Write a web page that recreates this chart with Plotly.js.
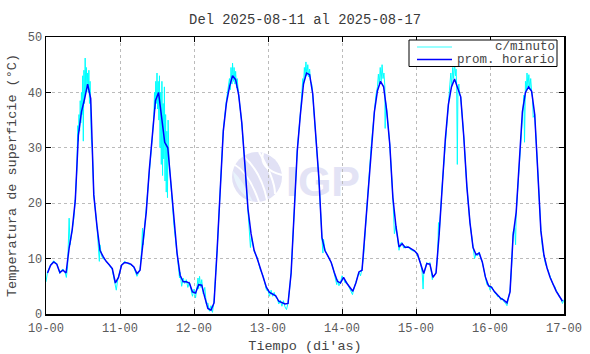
<!DOCTYPE html>
<html>
<head>
<meta charset="utf-8">
<script src="https://cdn.plot.ly/plotly-3.0.1.min.js"></script>
<style>html,body{margin:0;padding:0;background:#fff;}#chart{width:590px;height:354px;}</style>
</head>
<body>
<div id="chart"></div>
<script>
// ---- data ----
const chartTitle = 'Del 2025-08-11 al 2025-08-17';
const xTitle = "Tiempo (di'as)";
const yTitle = 'Temperatura de superficie (°C)';
const seriesNames = ['c/minuto', 'prom. horario'];
const dayTickHours = [0, 24, 48, 72, 96, 120, 144, 168];
const dayTickLabels = ['10-00', '11-00', '12-00', '13-00', '14-00', '15-00', '16-00', '17-00'];
const yTickVals = [0, 10, 20, 30, 40, 50];

// hourly mean (prom. horario), one value per hour, 10-00 .. 16-23
const hourlyDay0 = [7.4, 8.8, 9.4, 9.0, 7.5, 7.9, 7.4, 11.9, 15.2, 20.5, 32.3, 36.5, 38.8, 41.5, 38.9, 21.5, 16.0, 11.5, 10.4, 9.5, 8.9, 8.2, 5.6, 6.6];
const hourlyDay1 = [8.8, 9.3, 9.2, 9.0, 8.5, 7.3, 7.9, 13.1, 18.3, 26.0, 32.5, 38.5, 40.0, 35.2, 31.0, 30.0, 23.5, 16.5, 11.0, 7.0, 5.8, 5.8, 5.6, 4.0];
const hourlyDay2 = [3.8, 5.3, 5.2, 3.0, 1.0, 0.7, 2.0, 11.5, 22.5, 33.0, 38.0, 41.0, 43.0, 42.3, 39.5, 34.5, 27.0, 19.0, 14.5, 11.5, 10.0, 8.4, 6.5, 4.8];
const hourlyDay3 = [3.9, 3.6, 3.3, 2.3, 2.1, 1.8, 1.9, 7.4, 18.5, 29.5, 36.0, 41.5, 43.5, 43.2, 39.8, 32.7, 24.5, 13.8, 11.4, 10.4, 9.3, 7.5, 5.9, 5.6];
const hourlyDay4 = [6.6, 5.6, 4.8, 4.1, 5.6, 7.6, 7.9, 15.0, 22.7, 30.5, 36.5, 40.3, 42.0, 41.0, 36.7, 30.6, 21.0, 15.8, 12.1, 12.7, 12.0, 12.1, 11.8, 11.4];
const hourlyDay5 = [10.8, 9.2, 7.3, 9.1, 9.0, 6.6, 7.4, 14.3, 23.3, 31.5, 37.8, 41.0, 42.4, 40.9, 39.2, 32.0, 23.0, 16.5, 12.0, 10.7, 11.0, 9.4, 6.7, 5.1];
const hourlyDay6 = [4.8, 4.0, 3.3, 2.8, 2.5, 2.0, 4.0, 14.2, 18.4, 27.5, 36.5, 40.0, 41.0, 40.2, 36.0, 25.7, 15.0, 10.6, 8.3, 6.6, 5.3, 4.1, 3.2, 2.3];

// per-minute readings (c/minuto), sampled as [hour since 10-00, temperature]
const minuteDay0 = [[0,5.8],[0.5,7.6],[1.5,8.9],[2.5,9.6],[3.5,9.1],[4.5,7.3],[5.0,7.9],[5.5,8.1],[6.2,7.5],[6.6,6.6],[7.0,8.5],[7.5,17.3],[7.8,12.5],[8.5,15.8],[9.0,17.2],[9.5,20.8],[10.0,26],[10.3,34],[10.5,31.2],[10.7,36],[10.9,33],[11.1,38.5],[11.3,34.5],[11.5,40],[11.7,36],[11.9,43],[12.1,31.2],[12.3,44],[12.5,38],[12.7,46.2],[12.9,40],[13.1,44.5],[13.3,41],[13.5,43.5],[13.7,40],[13.9,44],[14.1,38],[14.3,42],[14.5,35],[14.7,31.5],[15.0,30],[15.5,21.5],[16.5,16.0],[17.0,12.5],[17.3,9.5],[17.5,12.5],[18.0,10.5],[18.5,10.0],[19.5,9.6],[20.5,8.8],[21.5,8.0],[22.0,6.5],[22.5,5.0],[22.8,4.3],[23.2,6.0],[23.5,6.6]];
const minuteDay1 = [[24.5,8.8],[25.5,9.5],[26.5,9.1],[27.5,8.9],[28.5,8.4],[29.5,6.8],[30.5,8.0],[31.0,11.5],[31.3,15.5],[31.5,12.5],[32.5,18.6],[33.5,25.7],[34.5,32],[35.0,36],[35.2,40],[35.4,37],[35.6,42],[35.8,38],[36.0,43.5],[36.2,37],[36.4,42],[36.6,35],[36.8,43],[37.0,30],[37.2,40],[37.4,27],[37.6,42],[37.8,25],[38.0,38],[38.2,28],[38.4,41],[38.6,24],[38.8,36],[39.0,22],[39.2,33],[39.4,21],[39.6,35],[39.8,30],[40.0,27],[40.5,23.5],[41.5,16],[42.5,11],[43.0,8.0],[43.3,6.5],[43.5,7.5],[44.0,5.0],[44.5,6.5],[45.0,5.5],[45.5,6.2],[46.0,4.8],[46.5,5.8],[47.0,4.5],[47.5,3.2]];
const minuteDay2 = [[48.0,4.5],[48.5,2.9],[49.0,5.0],[49.3,6.5],[49.5,4.5],[49.8,6.8],[50.2,4.8],[50.5,6.2],[51.0,3.6],[51.5,4.8],[52.0,1.8],[52.5,2.0],[53.0,0.5],[53.5,1.5],[54.0,0.3],[54.5,2.5],[55.5,11.5],[56.5,22.8],[57.5,33.2],[58.5,38.5],[59.0,40.5],[59.5,42.5],[59.8,40.5],[60.0,44.5],[60.3,41.5],[60.5,45.3],[60.8,42],[61.0,44.5],[61.3,41.5],[61.5,43.8],[61.8,40.8],[62.0,42.5],[62.5,39.5],[63.5,34.5],[64.5,27],[65.5,19],[66.0,15.5],[66.3,12.0],[66.6,14.0],[67.5,11.3],[68.5,10.2],[69.5,8.0],[70.5,6.8],[71.0,5.5],[71.5,4.3]];
const minuteDay3 = [[72.0,4.2],[72.5,3.2],[73.0,4.3],[73.5,3.2],[74.0,3.9],[74.5,3.0],[75.0,2.8],[75.5,1.8],[76.0,2.5],[76.5,1.4],[77.0,2.4],[77.5,1.3],[78.0,0.8],[78.5,2.0],[79.0,4.5],[79.5,7.5],[80.5,18.5],[81.5,29.8],[82.5,36.2],[83.0,40],[83.3,42.5],[83.5,41],[83.8,44.5],[84.0,42.5],[84.3,45.5],[84.6,43],[84.9,45],[85.2,42.8],[85.5,44.2],[85.8,42],[86.2,41.5],[86.5,39.5],[87.5,32.7],[88.5,24.5],[89.5,13.8],[89.8,11.0],[90.0,13.5],[90.5,11.5],[91.5,10.3],[92.5,9.3],[93.0,8.5],[93.5,7.3],[94.0,6.5],[94.3,5.3],[94.6,6.2],[95.0,5.1],[95.5,5.6]];
const minuteDay4 = [[96.0,6.9],[96.5,6.5],[97.0,5.6],[97.5,5.8],[98.0,5.2],[98.5,4.6],[99.0,4.0],[99.4,3.5],[99.8,4.5],[100.5,5.8],[101.0,7.0],[101.5,7.5],[102.0,6.9],[102.5,8.2],[103.0,10.5],[103.5,15.2],[104.5,22.7],[105.5,30.5],[106.5,36.8],[107.0,39.5],[107.5,41],[107.8,43.3],[108.1,41.5],[108.4,44.5],[108.7,42],[109.0,45],[109.3,42.5],[109.6,43.5],[109.9,41],[110.0,33.5],[110.1,38.5],[110.5,36.7],[111.5,30.6],[112.5,21],[112.8,18],[113.0,14.5],[113.5,15.8],[114.0,13.5],[114.5,11.5],[115.0,12.8],[115.4,12.9],[116.0,11.9],[117.0,12.3],[118.0,11.7],[119.0,11.4],[119.9,11.3]];
const minuteDay5 = [[120.5,10.6],[121.5,9.2],[122.0,7.5],[122.3,4.5],[122.5,7.2],[123.0,8.5],[123.5,9.3],[124.0,9.0],[124.5,9.3],[125.0,7.5],[125.3,6.2],[125.5,6.8],[126.0,7.0],[126.5,7.5],[127.0,10.5],[127.3,16.5],[127.5,14.3],[128.5,23.3],[129.5,31.5],[130.5,37.8],[131.0,41.5],[131.3,43.5],[131.6,41.2],[131.9,44.5],[132.2,42.5],[132.5,45.3],[132.8,43],[133.0,44.2],[133.2,41],[133.4,27],[133.6,40],[133.9,41.5],[134.2,39.5],[134.5,39.2],[135.5,32],[136.5,23],[137.5,16.5],[138.5,12],[139.0,10.0],[139.5,10.9],[140.0,10.5],[140.5,11.2],[141.0,10.0],[141.5,9.4],[142.5,6.7],[143.0,5.3],[143.5,5.4]];
const minuteDay6 = [[144.0,4.3],[144.5,5.0],[145.0,4.4],[145.5,3.8],[146.0,3.6],[146.5,3.1],[147.0,3.2],[147.5,2.5],[148.0,2.9],[148.5,2.2],[149.0,2.0],[149.5,1.5],[150.0,3.0],[150.5,4.2],[151.0,8.5],[151.5,14.8],[152.0,15.5],[152.3,12.5],[152.5,18.4],[153.5,27.5],[154.5,36.5],[155.0,39.5],[155.2,31],[155.5,42],[155.8,40.5],[156.0,43.5],[156.3,41],[156.6,43.2],[156.9,40.5],[157.2,42.5],[157.5,40.2],[157.8,39],[158.0,35.5],[158.5,36],[159.5,25.7],[160.0,19.0],[160.5,15.2],[161.0,12.0],[161.5,10.6],[162.0,9.0],[162.5,8.4],[163.0,7.5],[163.5,6.5],[164.0,6.0],[164.5,5.2],[165.0,5.0],[165.5,4.2],[166.0,3.8],[166.5,3.1],[167.0,2.8],[167.5,1.9],[168.0,2.6]];

// ---- build traces ----
const hourly = [].concat(hourlyDay0, hourlyDay1, hourlyDay2, hourlyDay3, hourlyDay4, hourlyDay5, hourlyDay6);
const hourlyX = hourly.map((_, i) => i + 0.5);
const minute = [].concat(minuteDay0, minuteDay1, minuteDay2, minuteDay3, minuteDay4, minuteDay5, minuteDay6);

const mono = 'Liberation Mono, Courier New, monospace';
const colors = ['#00ffff', '#0000ff'];
const widths = [1, 1.5];

const traces = [
  {x: minute.map(p => p[0]), y: minute.map(p => p[1]), type: 'scatter', mode: 'lines',
   name: seriesNames[0], showlegend: false, line: {color: colors[0], width: widths[0]}},
  {x: hourlyX, y: hourly, type: 'scatter', mode: 'lines',
   name: seriesNames[1], showlegend: false, line: {color: colors[1], width: widths[1]}}
];

// plot-area pixel helpers (plot spans x 46..564, y 37..314)
const PL = 46, PW = 518, PB = 314, PH = 277;
const px = x => (x - PL) / PW;
const py = y => (PB - y) / PH;

const pix = {type: 'path', layer: 'below', xref: 'paper', yref: 'paper', xsizemode: 'pixel', ysizemode: 'pixel',
             xanchor: px(257), yanchor: py(177)};
const shapes = [
  Object.assign({}, pix, {type: 'circle', x0: -25, x1: 25, y0: -25, y1: 25, fillcolor: '#e1e1f5', line: {width: 0}}),
  Object.assign({}, pix, {path: 'M -24,6 Q -22,-14 -4,-24.7 Q -14,-4 -24,6 Z', fillcolor: '#e8f3fc', line: {width: 0}}),
  Object.assign({}, pix, {path: 'M -22,12 Q -8,4 2,-25', line: {color: '#fff', width: 2}}),
  Object.assign({}, pix, {path: 'M -14,21 Q 4,6 10,-23', line: {color: '#fff', width: 2}}),
  Object.assign({}, pix, {path: 'M 6,24 Q 2,8 25,2', line: {color: '#fff', width: 2}}),
  Object.assign({}, pix, {path: 'M 2,25 Q 18,-2 18,-17', line: {color: '#fff', width: 2}}),
  {type: 'rect', layer: 'below', xref: 'paper', yref: 'paper',
   x0: px(286), x1: px(360), y0: py(197), y1: py(157),
   fillcolor: 'rgba(0,0,0,0)', line: {width: 0},
   label: {text: '<b>IGP</b>', font: {family: 'Liberation Sans, Arial, sans-serif', size: 43, color: '#e3e3f5'},
           textposition: 'middle center'}},
  // legend box and samples
  {type: 'rect', layer: 'above', xref: 'paper', yref: 'paper',
   x0: px(409), x1: px(557), y0: py(66.5), y1: py(40), fillcolor: '#fff', line: {color: '#000', width: 1}},
  {type: 'line', layer: 'above', xref: 'paper', yref: 'paper',
   x0: px(417), x1: px(452), y0: py(47), y1: py(47), line: {color: '#7ff', width: 1.3}},
  {type: 'line', layer: 'above', xref: 'paper', yref: 'paper',
   x0: px(417), x1: px(452), y0: py(59.5), y1: py(59.5), line: {color: colors[1], width: widths[1]}}
];

const annotations = [
  {text: seriesNames[0], xref: 'paper', yref: 'paper', x: px(557), y: py(47.5), xanchor: 'right', yanchor: 'middle',
   showarrow: false, font: {family: mono, size: 12.5, color: '#444'}},
  {text: seriesNames[1], xref: 'paper', yref: 'paper', x: px(557), y: py(60), xanchor: 'right', yanchor: 'middle',
   showarrow: false, font: {family: mono, size: 12.5, color: '#444'}}
];

const axisCommon = {
  ticks: 'inside', ticklen: 5, tickcolor: '#000', tickwidth: 1,
  showline: true, linecolor: '#000', linewidth: 1.5, mirror: 'ticks',
  showgrid: true, gridcolor: '#bbb', griddash: 'dot', gridwidth: 1,
  zeroline: false, tickfont: {family: mono, size: 12, color: '#5a5a5a'}
};

const layout = {
  width: 590, height: 354,
  margin: {l: 46, r: 26, t: 37, b: 40},
  paper_bgcolor: '#fff', plot_bgcolor: '#fff',
  font: {family: mono, size: 11, color: '#555'},
  title: {text: chartTitle, x: 0.517, xanchor: 'center', y: 0.947, yanchor: 'middle',
          font: {family: mono, size: 13.8, color: '#3a3a3a'}},
  xaxis: Object.assign({}, axisCommon, {range: [0, 168], tickvals: dayTickHours, ticktext: dayTickLabels,
          ticklabelstandoff: 2,
          title: {text: xTitle, standoff: 5, font: {family: mono, size: 13.5, color: '#444'}}}),
  yaxis: Object.assign({}, axisCommon, {range: [0, 50], tickvals: yTickVals,
          title: {text: yTitle, standoff: 8, font: {family: mono, size: 13.5, color: '#444'}}}),
  showlegend: false,
  shapes: shapes,
  annotations: annotations
};

Plotly.newPlot('chart', traces, layout, {staticPlot: true, displayModeBar: false});
</script>
</body>
</html>
